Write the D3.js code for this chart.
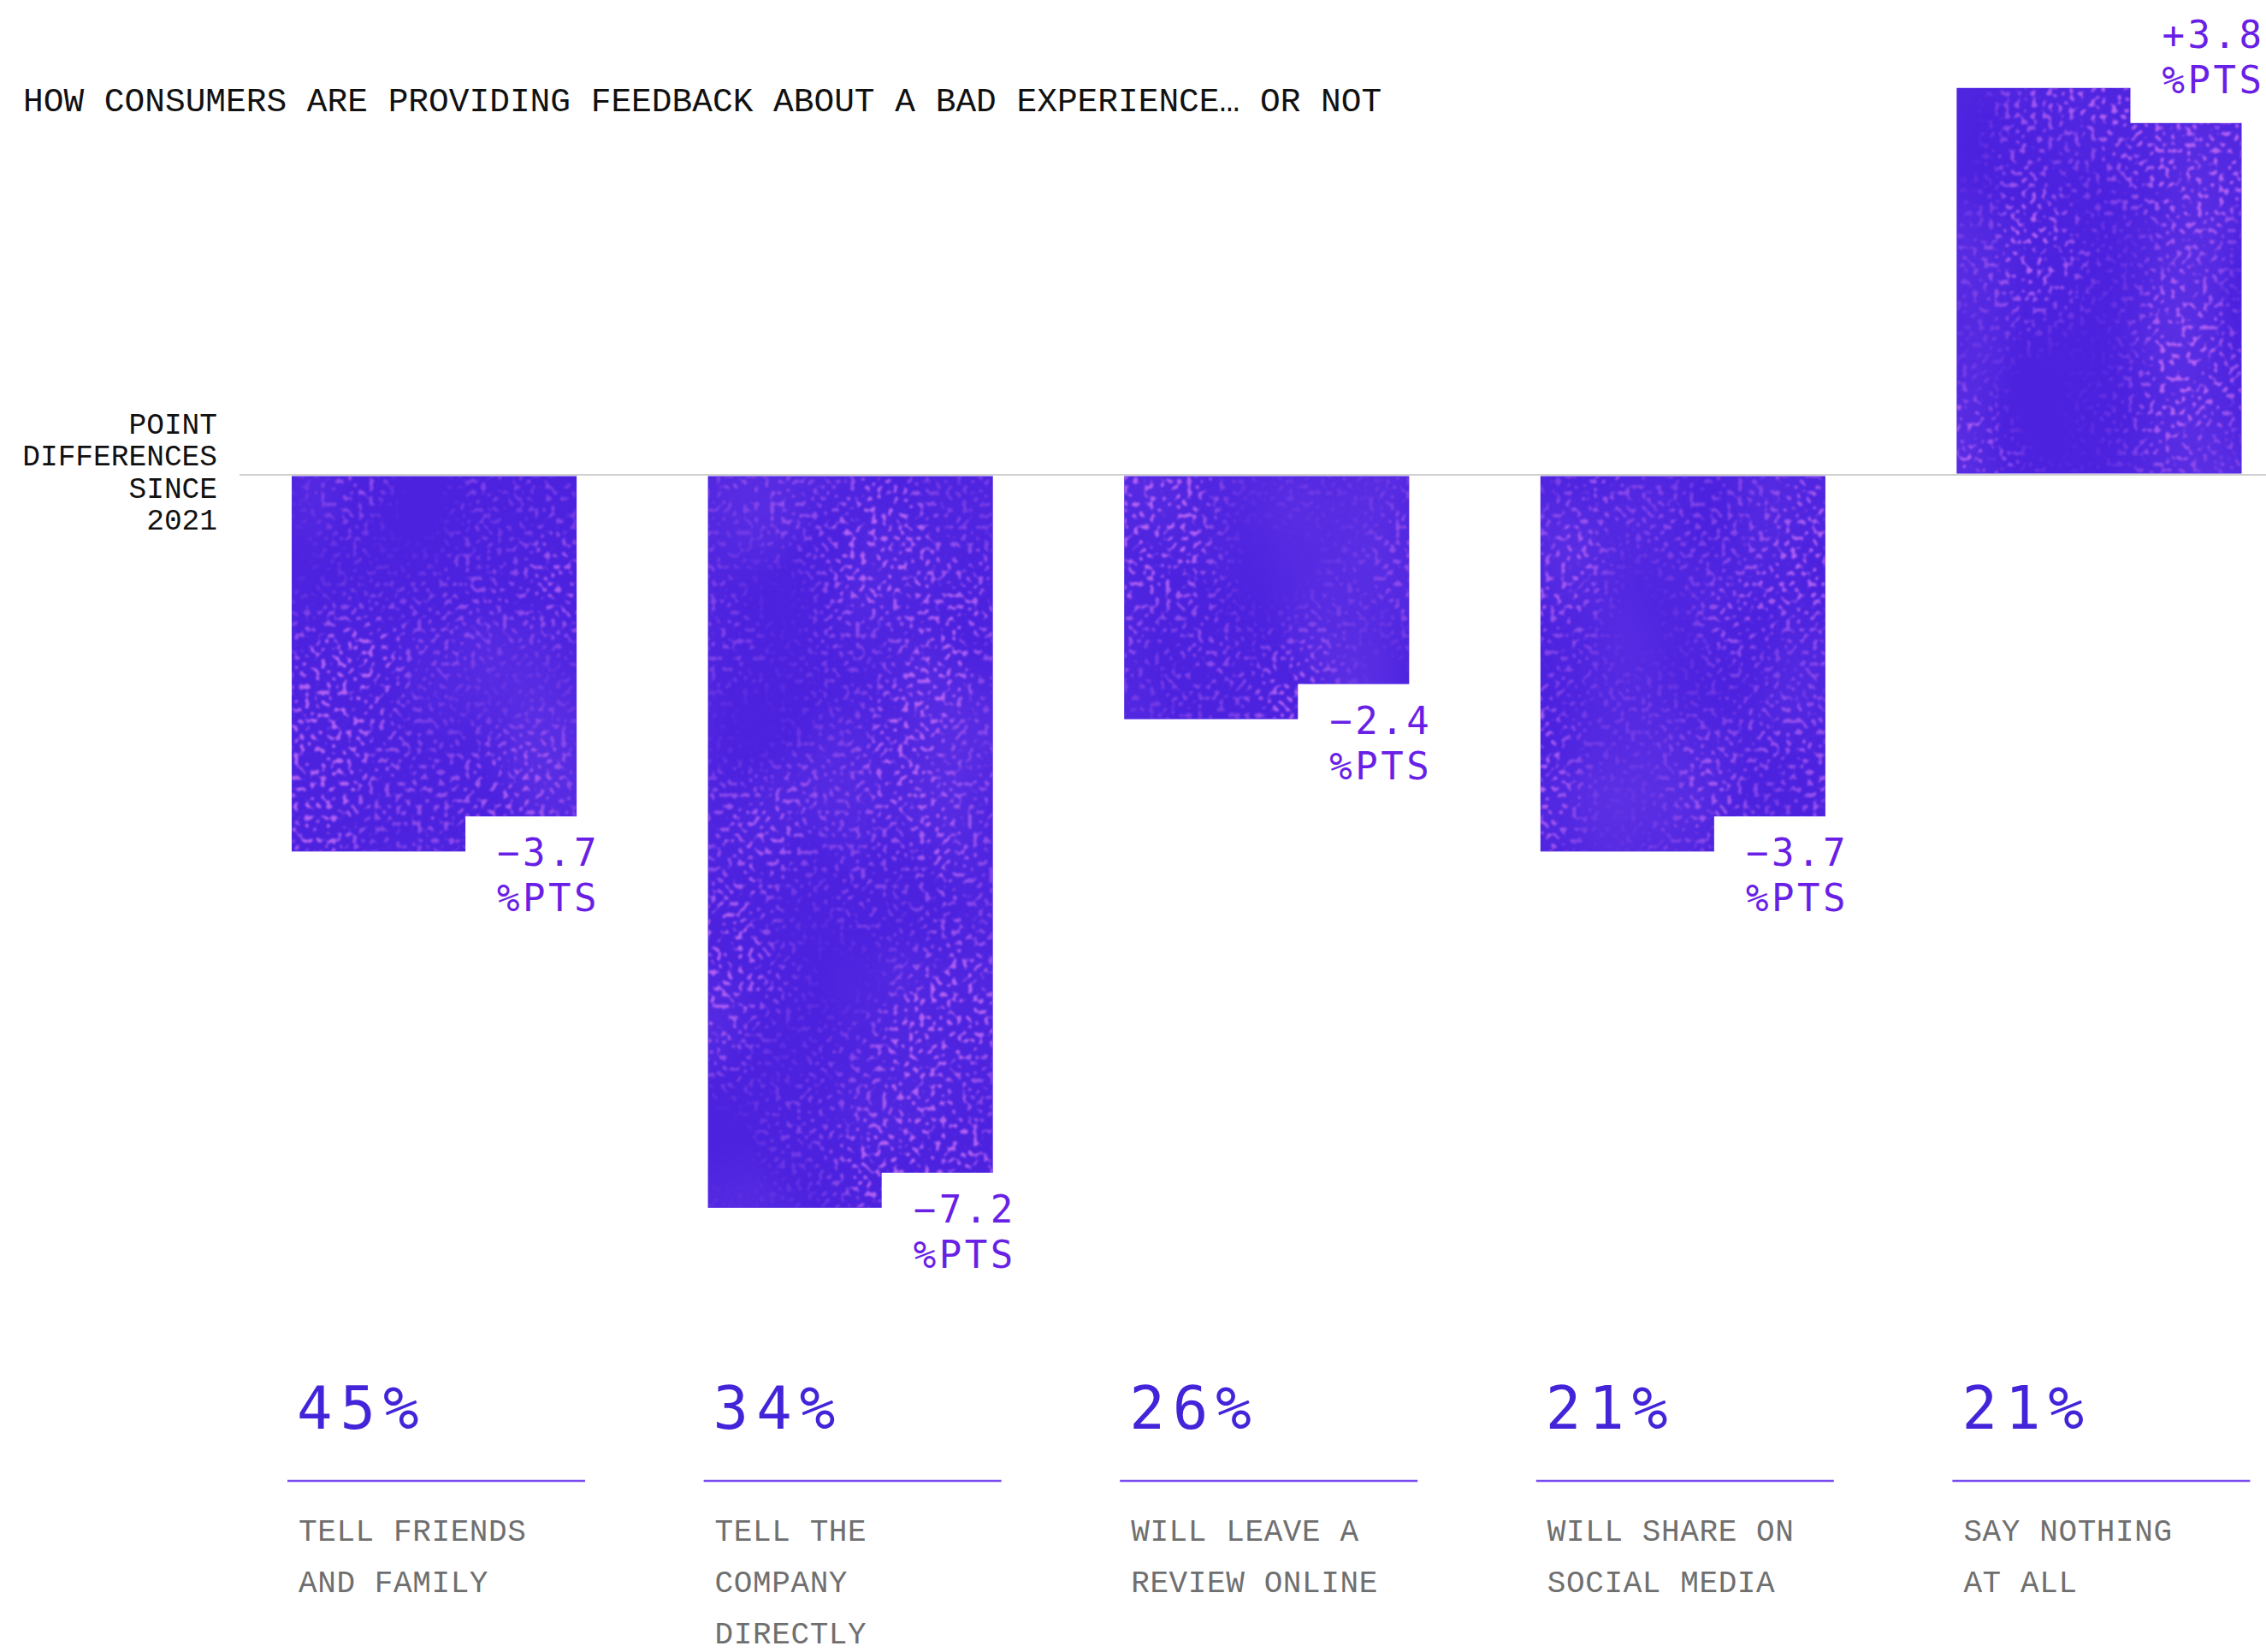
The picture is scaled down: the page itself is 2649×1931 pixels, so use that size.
<!DOCTYPE html>
<html>
<head>
<meta charset="utf-8">
<script src="https://cdn.jsdelivr.net/npm/d3@7"></script>
<style>
  html, body { margin: 0; padding: 0; background: #ffffff; }
  svg { display: block; }
</style>
</head>
<body>
<script>
// Consumer feedback channels after a bad experience
const categoryIds = ["friends", "company", "review", "social", "nothing"];
const categoryLines = [
  ["TELL FRIENDS", "AND FAMILY"],
  ["TELL THE", "COMPANY", "DIRECTLY"],
  ["WILL LEAVE A", "REVIEW ONLINE"],
  ["WILL SHARE ON", "SOCIAL MEDIA"],
  ["SAY NOTHING", "AT ALL"]
];
const shareOfConsumers = [45, 34, 26, 21, 21];      // % in the latest survey
const pointChangeSince2021 = [-3.7, -7.2, -2.4, -3.7, 3.8];
const titleText = "HOW CONSUMERS ARE PROVIDING FEEDBACK ABOUT A BAD EXPERIENCE\u2026 OR NOT";
const axisNoteLines = ["POINT", "DIFFERENCES", "SINCE", "2021"];

const W = 2649, H = 1931;
const MONO = "'Liberation Mono', 'DejaVu Sans Mono', monospace";
const MONO_ROUND = "'DejaVu Sans Mono', 'Liberation Mono', monospace";

const svg = d3.select("body").append("svg")
  .attr("width", W).attr("height", H)
  .attr("viewBox", [0, 0, W, H]);

// speckled ink texture for the bars: soft dots whose density drifts across the bar
const defs = svg.append("defs");
const grain = defs.append("filter").attr("id", "grain")
  .attr("x", 0).attr("y", 0).attr("width", "100%").attr("height", "100%")
  .attr("color-interpolation-filters", "sRGB");
grain.append("feTurbulence").attr("type", "fractalNoise")
  .attr("baseFrequency", "0.16 0.15").attr("numOctaves", 1).attr("seed", 11).attr("result", "fine");
grain.append("feColorMatrix").attr("in", "fine").attr("type", "matrix")
  .attr("values", "0 0 0 0 0.70  0 0 0 0 0.38  0 0 0 0 0.95  8 0 0 0 -4.4")
  .attr("result", "dots0");
grain.append("feGaussianBlur").attr("in", "dots0").attr("stdDeviation", 0.9).attr("result", "dots");
grain.append("feTurbulence").attr("type", "fractalNoise")
  .attr("baseFrequency", "0.006 0.004").attr("numOctaves", 2).attr("seed", 4).attr("result", "coarse");
grain.append("feColorMatrix").attr("in", "coarse").attr("type", "matrix")
  .attr("values", "0 0 0 0 0  0 0 0 0 0  0 0 0 0 0  0 2.6 0 0 -0.75")
  .attr("result", "mask");
grain.append("feComposite").attr("in", "dots").attr("in2", "mask").attr("operator", "in").attr("result", "sparse");
grain.append("feColorMatrix").attr("in", "coarse").attr("type", "matrix")
  .attr("values", "0 0 0 0 0.45  0 0 0 0 0.27  0 0 0 0 0.92  0 0 1.0 0 -0.42")
  .attr("result", "patches");
grain.append("feMerge").attr("result", "tex")
  .call(m => { m.append("feMergeNode").attr("in", "patches"); m.append("feMergeNode").attr("in", "sparse"); });
grain.append("feComposite").attr("in", "tex").attr("in2", "SourceGraphic").attr("operator", "in").attr("result", "clipped");
grain.append("feMerge")
  .call(m => { m.append("feMergeNode").attr("in", "SourceGraphic"); m.append("feMergeNode").attr("in", "clipped"); });

// scales
const x = d3.scaleBand()
  .domain(categoryIds)
  .range([264.25, 2697.25])
  .paddingInner(0.3155)
  .paddingOuter(0.15775);

const y = d3.scaleLinear()
  .domain([-8, 4])
  .range([1507, 79]);

const data = categoryIds.map((id, i) => ({
  id,
  lines: categoryLines[i],
  share: shareOfConsumers[i],
  change: pointChangeSince2021[i]
}));

// title
svg.append("text")
  .attr("x", 27).attr("y", 130)
  .attr("font-family", MONO).attr("font-size", 39.5)
  .attr("fill", "#111111")
  .text(titleText);

// axis note
svg.append("text")
  .attr("text-anchor", "end")
  .attr("font-family", MONO).attr("font-size", 34.5)
  .attr("fill", "#111111")
  .selectAll("tspan").data(axisNoteLines).join("tspan")
  .attr("x", 254)
  .attr("y", (d, i) => 507 + i * 37.4)
  .text(d => d);

// zero baseline
svg.append("line")
  .attr("x1", 280).attr("x2", W)
  .attr("y1", y(0)).attr("y2", y(0))
  .attr("stroke", "#cfcfcf").attr("stroke-width", 2);

// bars
const barG = svg.append("g");
barG.selectAll("rect").data(data).join("rect")
  .attr("x", d => x(d.id))
  .attr("width", x.bandwidth())
  .attr("y", d => d.change < 0 ? y(0) + 1.5 : y(d.change))
  .attr("height", d => Math.abs(y(d.change) - y(0)) - 1.5)
  .attr("fill", "#4c22df")
  .attr("filter", "url(#grain)");

// white cut-outs where the value labels sit
const notchW = 130, notchH = 41;
svg.append("g").selectAll("rect").data(data).join("rect")
  .attr("x", d => x(d.id) + x.bandwidth() - notchW)
  .attr("width", notchW + 2)
  .attr("y", d => d.change < 0 ? y(d.change) - notchH : y(d.change) - 2)
  .attr("height", notchH + 2)
  .attr("fill", "#ffffff");

// value labels
const fmt = d3.format("+.1f");
const valueLabels = svg.append("g")
  .attr("font-family", MONO_ROUND).attr("font-size", 44)
  .attr("letter-spacing", 3.5)
  .attr("fill", "#6a1fe6")
  .attr("text-anchor", "end");
valueLabels.selectAll("text").data(data).join("text")
  .each(function (d) {
    const t = d3.select(this);
    const xr = x(d.id) + x.bandwidth() + 27;
    const base = d.change < 0 ? y(d.change) + 17 : y(d.change) - 47;
    t.append("tspan").attr("x", xr).attr("y", base).text(fmt(d.change));
    t.append("tspan").attr("x", xr).attr("y", base + 53).text("%PTS");
  });

// bottom block: share, divider, category name
const foot = svg.append("g").selectAll("g").data(data).join("g")
  .attr("transform", d => `translate(${x(d.id)},0)`);

foot.append("text")
  .attr("x", 6).attr("y", 1670)
  .attr("font-family", MONO_ROUND).attr("font-size", 69)
  .attr("letter-spacing", 9)
  .attr("fill", "#4424d9")
  .text(d => d.share + "%");

foot.append("line")
  .attr("x1", -5).attr("x2", 343)
  .attr("y1", 1731).attr("y2", 1731)
  .attr("stroke", "#7a4cf0").attr("stroke-width", 2.5);

foot.append("text")
  .attr("font-family", MONO).attr("font-size", 36)
  .attr("letter-spacing", 0.6)
  .attr("fill", "#6f6f6f")
  .selectAll("tspan").data(d => d.lines).join("tspan")
  .attr("x", 8)
  .attr("y", (d, i) => 1801 + i * 60)
  .text(d => d);
</script>
</body>
</html>
